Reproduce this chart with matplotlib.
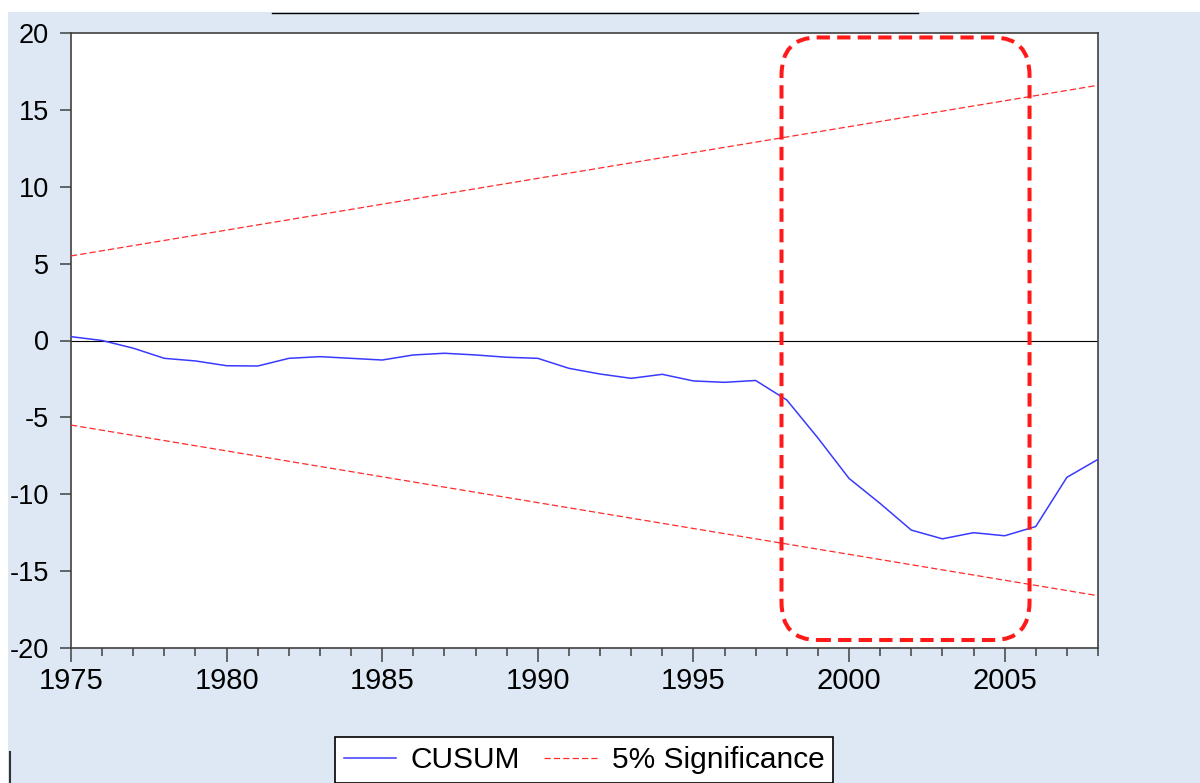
import matplotlib
matplotlib.use("Agg")
import matplotlib.pyplot as plt
from matplotlib.patches import FancyBboxPatch, Rectangle
from matplotlib.lines import Line2D
from matplotlib.ticker import MultipleLocator

plt.rcParams['font.family'] = ['Liberation Sans', 'DejaVu Sans']
plt.rcParams['axes.unicode_minus'] = False

years = list(range(1975, 2009))
cusum = [0.25, 0.0, -0.5, -1.16, -1.33, -1.64, -1.66, -1.16, -1.05, -1.16,
         -1.27, -0.94, -0.83, -0.94, -1.09, -1.16, -1.81, -2.18, -2.46, -2.2,
         -2.63, -2.72, -2.6, -3.87, -6.34, -8.97, -10.6, -12.33, -12.9, -12.5,
         -12.7, -12.1, -8.9, -7.73]
sig_years = [1975, 2008]
sig_upper = [5.5, 16.6]
sig_lower = [-5.5, -16.6]
box_x = [1997.83, 2005.8]
box_y = [-19.48, 19.71]

W, H = 1200, 783
bg = '#dde8f4'
fig = plt.figure(figsize=(12, 7.83), dpi=100, facecolor=bg)

# white strips at top and left edge
fig.patches.append(Rectangle((0, 1 - 12 / H), 1, 12 / H, transform=fig.transFigure,
                             facecolor='white', edgecolor='none', zorder=0))
fig.patches.append(Rectangle((0, 0), 8 / W, 1, transform=fig.transFigure,
                             facecolor='white', edgecolor='none', zorder=0))
fig.lines.append(Line2D([272 / W, 918 / W], [1 - 12.5 / H, 1 - 12.5 / H],
                        transform=fig.transFigure, color='black', lw=1.0))
fig.lines.append(Line2D([10 / W, 10 / W], [0, 1 - 752 / H],
                        transform=fig.transFigure, color='#333333', lw=1.5))

ax = fig.add_axes([71 / W, 1 - 648 / H, (1098 - 71) / W, (648 - 33) / H])
ax.set_facecolor('white')

ax.axhline(0, color='black', lw=0.8, zorder=2)
ax.plot(years, cusum, color='#3a3aff', lw=1.1, label='CUSUM', zorder=3)
ax.plot(sig_years, sig_upper, color='#ff2a2a', lw=0.9, dashes=(5, 2.5),
        label='5% Significance', zorder=3)
ax.plot(sig_years, sig_lower, color='#ff2a2a', lw=0.9, dashes=(5, 2.5), zorder=3)

box = FancyBboxPatch((box_x[0], box_y[0]), box_x[1] - box_x[0], box_y[1] - box_y[0],
                     boxstyle="round,pad=0,rounding_size=1.16", mutation_aspect=2.13,
                     fill=False, edgecolor='#ff1a1a', lw=2.9,
                     linestyle=(0, (3.3, 1.8)), zorder=4)
ax.add_patch(box)

ax.set_xlim(1975, 2008)
ax.set_ylim(-20, 20)
ax.xaxis.set_major_locator(MultipleLocator(5))
ax.xaxis.set_minor_locator(MultipleLocator(1))
ax.set_yticks(range(-20, 21, 5))

for s in ax.spines.values():
    s.set_color('#404040')
    s.set_linewidth(1.2)
ax.tick_params(axis='x', which='major', length=10, width=1.1, color='#404040',
               labelsize=21, pad=4)
ax.tick_params(axis='x', which='minor', length=5.5, width=1.1, color='#404040')
ax.tick_params(axis='y', which='major', length=8, width=1.1, color='#404040',
               labelsize=19.5, pad=8)

fig.legend(loc='upper center', bbox_to_anchor=(584 / W, 1 - 737 / H), ncol=2,
           fontsize=21.5, frameon=True, fancybox=False, edgecolor='black',
           borderaxespad=0, borderpad=0.3, handlelength=1.75, handletextpad=0.5,
           columnspacing=0.8, framealpha=1)
fig.legends[0].get_frame().set_linewidth(1.2)

fig.savefig('out.png', dpi=100, facecolor=bg)
